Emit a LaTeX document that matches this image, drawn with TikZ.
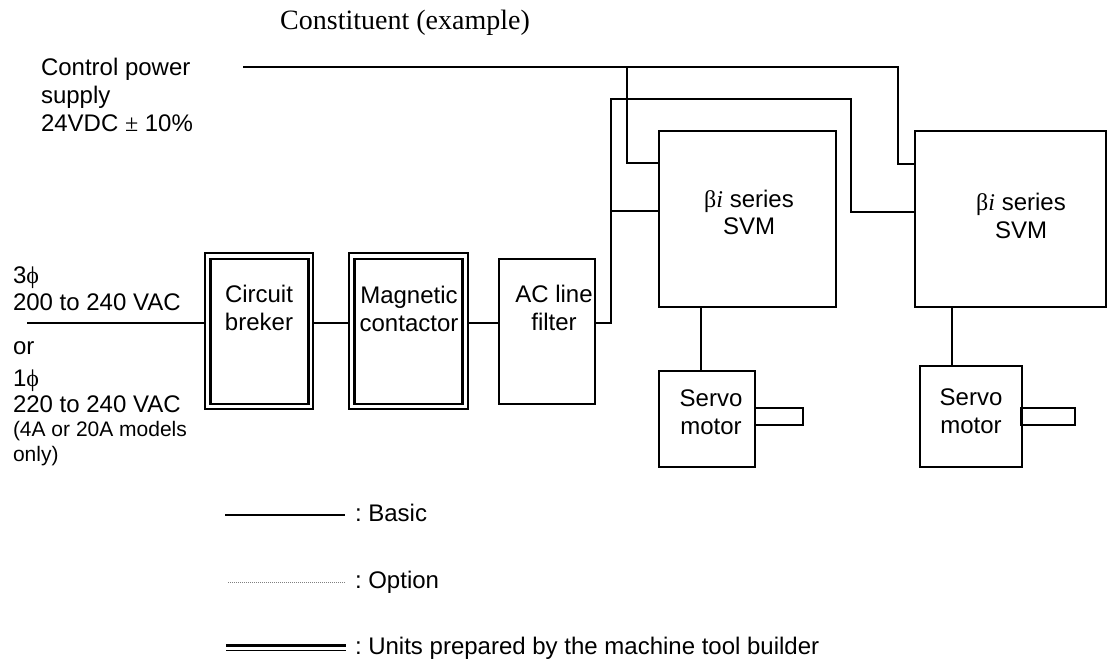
\documentclass[tikz,border=0pt]{standalone}
\usepackage{fontspec}
\setmainfont{Liberation Serif}
\setsansfont{Liberation Sans}
\frenchspacing
\tikzset{
	caption/.style={inner sep=0pt,outer sep=0pt,font=\sffamily\fontsize{24}{28}\selectfont},
	smallcaption/.style={inner sep=0pt,outer sep=0pt,font=\sffamily\fontsize{21}{25}\selectfont},
	unitbox/.style={draw,inner sep=0pt,outer sep=0pt,line width=1.5pt},
	builderbox/.style={draw,inner sep=0pt,outer sep=0pt,line width=1.3pt},
	buildercore/.style={draw,inner sep=0pt,outer sep=0pt,line width=2.8pt},
	wire/.style={line width=1.5pt},
}
\begin{document}
\begin{tikzpicture}[x=1pt,y=-1pt]
\def\PHI{{\rmfamily ϕ}}
\def\BETA{{\rmfamily β\textit{i}}}
	\useasboundingbox (0,0) rectangle (1107,660);
	% title and left labels
	\node[anchor=base west,inner sep=0pt,font=\fontsize{28}{32}\selectfont] (title) at (280,30) {Constituent (example)};
	\node[caption,anchor=base west,align=left] (ctrl) at (41,132) {Control power\\supply\\24VDC {\rmfamily ±} 10\%};
	\node[caption,anchor=base west] (threephase) at (13,283) {3\PHI};
	\node[caption,anchor=base west] (threevolt) at (13,310) {200 to 240 VAC};
	\node[caption,anchor=base west] (orword) at (13,354) {or};
	\node[caption,anchor=base west] (onephase) at (13,386) {1\PHI};
	\node[caption,anchor=base west] (onevolt) at (13,412) {220 to 240 VAC};
	\node[smallcaption,anchor=base west,align=left] (models) at (13,461) {(4A or 20A models\\only)};
	% units
	\node[builderbox,minimum width=108pt,minimum height=156pt] (breaker) at (259,331) {};
	\node[buildercore,minimum width=98pt,minimum height=145pt] at (259.5,331.5) (breakercore) {};
	\node[builderbox,minimum width=119pt,minimum height=156pt] (contactor) at (408.5,331) {};
	\node[buildercore,minimum width=108pt,minimum height=145pt] at (408.5,331.5) (contactorcore) {};
	\node[unitbox,minimum width=96pt,minimum height=145pt] (filter) at (547,331.5) {};
	\node[unitbox,minimum width=177pt,minimum height=176pt] (svmone) at (747.5,219) {};
	\node[unitbox,minimum width=191pt,minimum height=176pt] (svmtwo) at (1010.5,219) {};
	\node[unitbox,minimum width=96pt,minimum height=96pt] (motorone) at (707,419) {};
	\node[unitbox,minimum width=102pt,minimum height=101pt] (motortwo) at (971,416.5) {};
	\node[unitbox,minimum width=48pt,minimum height=17pt] (shaftone) at (779,416.5) {};
	\node[unitbox,minimum width=54pt,minimum height=17pt] (shafttwo) at (1048,416.5) {};
	% unit texts
	\node[caption,anchor=base,align=center] (breakertext) at (259,330) {Circuit\\breker};
	\node[caption,anchor=base,align=center] (contactortext) at (409,331) {Magnetic\\contactor};
	\node[caption,anchor=base,align=center] (filtertext) at (554,330) {AC line\\filter};
	\node[caption,anchor=base,align=center] (svmonetext) at (749,235) {\BETA{} series\\SVM};
	\node[caption,anchor=base,align=center] (svmtwotext) at (1021,238) {\BETA{} series\\SVM};
	\node[caption,anchor=base,align=center] (motoronetext) at (711,434) {Servo\\motor};
	\node[caption,anchor=base,align=center] (motortwotext) at (971,433) {Servo\\motor};
	% wiring points
	\coordinate (inline) at (27,323);
	\coordinate (feed) at (611,323);
	\coordinate (feedtop) at (611,99);
	\coordinate (feedtap) at (611,211);
	\coordinate (feedturn) at (851,212);
	\coordinate (ctrlstart) at (243,67);
	\coordinate (ctrltap) at (627,67);
	\coordinate (ctrlturn) at (898,67);
	\coordinate (ctrlone) at (627,163);
	\coordinate (ctrltwo) at (898,164);
	\coordinate (tapone) at (701,307);
	\coordinate (taptwo) at (952,307);
	\draw[wire,line width=2pt] (inline) -- (breaker.west |- inline);
	\draw[wire] (breaker.east |- inline) -- (contactor.west |- inline);
	\draw[wire] (contactor.east |- inline) -- (filter.west |- inline);
	\draw[wire] (filter.east |- inline) -- (feed) -- (feedtop) -| (feedturn) -- (svmtwo.west |- feedturn);
	\draw[wire] (feedtap) -- (svmone.west |- feedtap);
	\draw[wire] (ctrlstart) -- (ctrlturn) -- (ctrltwo) -- (svmtwo.west |- ctrltwo);
	\draw[wire] (ctrltap) -- (ctrlone) -- (svmone.west |- ctrlone);
	\draw[wire] (tapone) -- (tapone |- motorone.north);
	\draw[wire] (taptwo) -- (taptwo |- motortwo.north);
	% legend
	\coordinate (basicstart) at (225,515);
	\coordinate (basicend) at (345,515);
	\coordinate (optionstart) at (228,582);
	\coordinate (optionend) at (345,582);
	\coordinate (builderstart) at (226,645.3);
	\coordinate (builderend) at (345.5,645.3);
	\coordinate (builderlow) at (226,650.5);
	\coordinate (builderlowend) at (345.5,650.5);
	\draw[wire] (basicstart) -- (basicend);
	\draw[gray,line width=1pt,densely dotted] (optionstart) -- (optionend);
	\draw[line width=2.4pt] (builderstart) -- (builderend);
	\draw[line width=1.8pt] (builderlow) -- (builderlowend);
	\node[caption,anchor=base west] (basictext) at (355,521) {: Basic};
	\node[caption,anchor=base west] (optiontext) at (355,588) {: Option};
	\node[caption,anchor=base west] (buildertext) at (355,654) {: Units prepared by the machine tool builder};
\end{tikzpicture}
\end{document}
